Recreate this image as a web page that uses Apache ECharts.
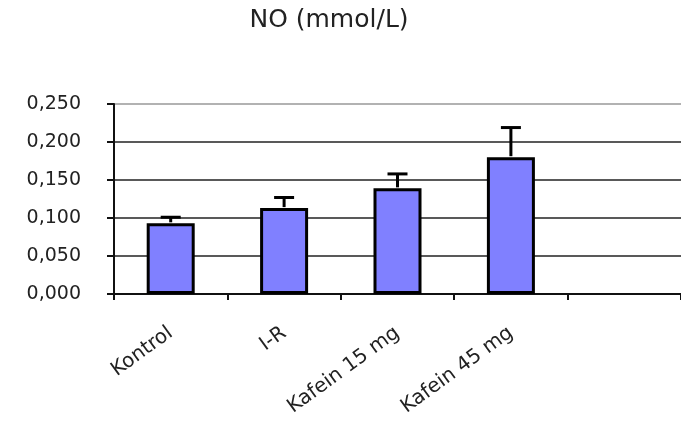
<!DOCTYPE html>
<html>
<head>
<meta charset="utf-8">
<script src="https://cdn.jsdelivr.net/npm/echarts@6/dist/echarts.min.js"></script>
<style>
html,body{margin:0;padding:0;background:#fff;}
#chart{width:681px;height:425px;}
</style>
</head>
<body>
<div id="chart"></div>
<script>
const categories = ['Kontrol', 'I-R', 'Kafein 15 mg', 'Kafein 45 mg', ''];
const means = [0.093, 0.113, 0.139, 0.180];
const errors = [0.008, 0.014, 0.019, 0.039];
const titleText = 'NO (mmol/L)';

const chart = echarts.init(document.getElementById('chart'));
const font = 'DejaVu Sans';

chart.setOption({
  backgroundColor: '#fff',
  animation: false,
  title: {
    text: titleText,
    left: 324,
    top: 3,
    textAlign: 'center',
    textStyle: {fontFamily: font, fontSize: 25, fontWeight: 'normal', color: '#222'}
  },
  grid: {left: 114, right: -8, top: 104, bottom: 131, containLabel: false},
  xAxis: {
    type: 'category',
    data: categories,
    boundaryGap: true,
    axisLine: {lineStyle: {color: '#111', width: 2}},
    axisTick: {show: true, length: 6, alignWithLabel: false, lineStyle: {color: '#111', width: 2}},
    axisLabel: {
      rotate: 36, margin: 37, interval: 0,
      fontFamily: font, fontSize: 20, color: '#222'
    },
    splitLine: {show: false}
  },
  yAxis: {
    type: 'value',
    min: 0, max: 0.25, interval: 0.05,
    axisLine: {show: true, lineStyle: {color: '#111', width: 2}},
    axisTick: {show: true, length: 7, lineStyle: {color: '#111', width: 2}},
    axisLabel: {
      margin: 33, fontFamily: font, fontSize: 19, color: '#222',
      formatter: v => v.toFixed(3).replace('.', ',')
    },
    splitLine: {show: true, lineStyle: {color: ['#222', '#222', '#222', '#222', '#222', '#999'], width: 1.6}}
  },
  series: [
    {
      type: 'bar',
      data: means,
      barWidth: 48,
      itemStyle: {color: '#8080FF', borderColor: '#000', borderWidth: 3},
      z: 2
    },
    {
      type: 'custom',
      z: 3,
      data: means.map((m, i) => [i, m, m + errors[i]]),
      renderItem: function (params, api) {
        const x = api.value(0);
        const p0 = api.coord([x, api.value(1)]);
        const p1 = api.coord([x, api.value(2)]);
        const hw = 10;
        return {
          type: 'group',
          children: [
            {type: 'line', shape: {x1: p0[0], y1: p0[1] - 1, x2: p1[0], y2: p1[1]}, style: {stroke: '#000', lineWidth: 3}},
            {type: 'line', shape: {x1: p1[0] - hw, y1: p1[1], x2: p1[0] + hw, y2: p1[1]}, style: {stroke: '#000', lineWidth: 3}}
          ]
        };
      }
    }
  ]
});
</script>
</body>
</html>
